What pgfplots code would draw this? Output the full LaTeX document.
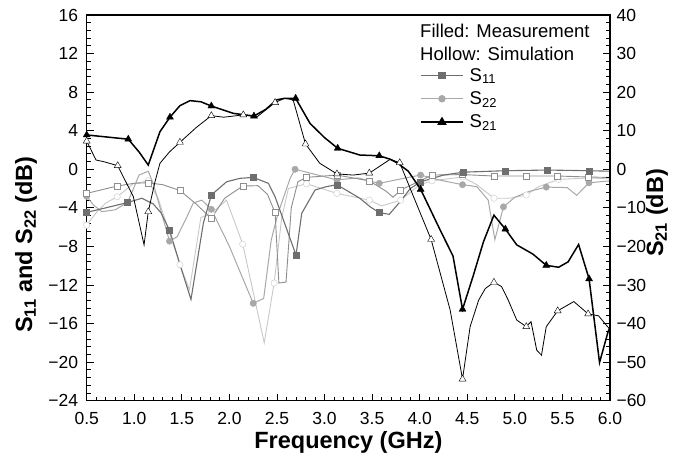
\documentclass[border=0pt]{standalone}
\usepackage{fontspec}
\setmainfont{Liberation Sans}
\usepackage{pgfplots}
\pgfplotsset{compat=1.18}
\definecolor{sA}{HTML}{6E6E6E}
\definecolor{sB}{HTML}{8E8E8E}
\definecolor{sC}{HTML}{A8A8A8}
\definecolor{sD}{HTML}{C8C8C8}
\pgfplotsset{
 common/.style={scale only axis, width=523.3pt, height=385.7pt, xmin=0.5, xmax=6,
   /pgf/number format/assume math mode=true,
   tick label style={font=\fontsize{17.5}{17.5}\selectfont},
   label style={font=\fontsize{23.5}{23.5}\selectfont\bfseries},
   tick style={black, line width=0.9pt},
   major tick length=7pt, minor tick length=4pt,
   axis line style={line width=1.4pt},
   tick align=inside,
 }
}
\begin{document}
\begin{tikzpicture}
\begin{axis}[common,
  ymin=-24, ymax=16,
  xtick={0.5,1,...,6}, minor x tick num=4,
  ytick={-24,-20,-16,-12,-8,-4,0,4,8,12,16}, minor y tick num=4,
  yticklabels={−24,−20,−16,−12,−8,−4,0,4,8,12,16},
  xtick pos=lower, ytick pos=left,
  xticklabel style={/pgf/number format/.cd, fixed, fixed zerofill, precision=1, /tikz/.cd, yshift=-8pt},
  yticklabel style={xshift=-5pt},
  xlabel={Frequency (GHz)},
  ylabel={S\textsubscript{11} and S\textsubscript{22} (dB)},
  xlabel style={at={(rel axis cs:0.5,-0.107)}, anchor=center},
  ylabel style={at={(rel axis cs:-0.116,0.405)}, anchor=center},
]
% S22 simulated
\addplot[sD, line width=0.9pt] coordinates {
(0.5,-5.8) (0.6,-4.5) (0.7,-3.5) (0.82,-2.85) (0.99,-1.5) (1.147,-1.2) (1.25,-3) (1.35,-6) (1.48,-9.9) (1.58,-12.5) (1.7,-5) (1.81,-4.6) (1.9,-3.8) (1.97,-3.2) (2.14,-7.76) (2.366,-18) (2.47,-11.8) (2.55,-5) (2.62,-2) (2.81,-1.5) (3.13,-2.5) (3.47,-3.2) (3.6,-3.8) (3.80,-3.2) (4.0,-1.6) (4.13,-1.2) (4.45,-0.8) (4.6,-1.6) (4.78,-3.0) (4.95,-3.0) (5.12,-2.67) (5.25,-1.8) (5.46,-1.05) (5.78,-0.9) (6.0,-1.0)};
\addplot[only marks, mark=*, mark size=3.2pt, draw=sD, fill=white] coordinates {
(0.5,-5.8) (0.82,-2.85) (1.147,-1.2) (1.48,-9.9) (1.81,-4.6) (2.14,-7.76) (2.47,-11.8) (2.81,-1.5) (3.13,-2.5) (3.47,-3.2) (3.80,-3.2) (4.13,-1.2) (4.45,-0.8) (4.78,-3.0) (5.12,-2.67) (5.46,-1.05) (5.78,-0.9)};
% S22 measured
\addplot[sC, line width=1pt] coordinates {
(0.5,-2.8) (0.57,-3.7) (0.66,-4.4) (0.8,-4.2) (0.93,-3.43) (1.0,-1.8) (1.05,-0.6) (1.147,-0.2) (1.2,-1.5) (1.3,-5.0) (1.37,-7.45) (1.45,-7.0) (1.55,-5) (1.62,-3.5) (1.71,-3.2) (1.81,-4.15) (2.0,-8) (2.25,-13.9) (2.36,-13.4) (2.44,-7.3) (2.51,-4.6) (2.64,-0.9) (2.69,0.0) (2.85,-0.4) (3.13,-1.1) (3.35,-0.9) (3.575,-1.46) (3.8,-1.0) (4.01,-0.6) (4.2,-1.1) (4.45,-1.6) (4.6,-1.8) (4.72,-3.2) (4.79,-7.3) (4.88,-3.9) (5.0,-2.9) (5.15,-2.3) (5.33,-1.85) (5.55,-1.9) (5.65,-2.7) (5.78,-1.4) (6.0,-1.2)};
\addplot[only marks, mark=*, mark size=3.2pt, color=sC] coordinates {
(0.5,-2.8) (0.93,-3.43) (1.37,-7.45) (1.81,-4.15) (2.25,-13.9) (2.69,0.0) (3.13,-1.1) (3.575,-1.46) (4.01,-0.6) (4.45,-1.6) (4.88,-3.9) (5.33,-1.85) (5.78,-1.4)};
% S11 simulated
\addplot[sB, line width=0.9pt] coordinates {
(0.5,-2.5) (0.82,-1.74) (1.0,-1.45) (1.147,-1.4) (1.3,-1.6) (1.48,-2.2) (1.65,-3.6) (1.81,-5.1) (1.95,-3.0) (2.14,-1.74) (2.3,-1.7) (2.40,-2.6) (2.48,-4.5) (2.52,-11.8) (2.595,-11.7) (2.65,-4) (2.72,-1.3) (2.81,-0.84) (3.13,-0.6) (3.47,-1.2) (3.65,-2.3) (3.72,-2.9) (3.80,-2.15) (4.13,-0.6) (4.45,-0.55) (4.78,-0.7) (5.12,-0.7) (5.45,-0.7) (5.77,-0.8) (6.0,-0.85)};
\addplot[only marks, mark=square*, mark size=3pt, draw=sB, fill=white] coordinates {
(0.5,-2.5) (0.82,-1.74) (1.147,-1.4) (1.48,-2.2) (1.81,-5.1) (2.14,-1.74) (2.48,-4.5) (2.81,-0.84) (3.13,-0.6) (3.47,-1.2) (3.80,-2.15) (4.13,-0.6) (4.45,-0.55) (4.78,-0.7) (5.12,-0.7) (5.45,-0.7) (5.77,-0.8)};
% S11 measured
\addplot[sA, line width=1.1pt] coordinates {
(0.5,-4.47) (0.7,-4.0) (0.93,-3.45) (1.08,-3.0) (1.2,-3.6) (1.28,-4.5) (1.37,-6.3) (1.5,-10.5) (1.596,-13.5) (1.726,-5.6) (1.81,-2.67) (1.97,-1.3) (2.11,-0.94) (2.25,-0.84) (2.41,-1.46) (2.48,-2.85) (2.70,-8.9) (2.76,-4.57) (2.90,-2.15) (3.02,-1.8) (3.13,-1.6) (3.37,-3.0) (3.48,-3.9) (3.575,-4.5) (3.68,-4.67) (3.8,-3.3) (3.9,-2.0) (4.01,-1.3) (4.25,-0.6) (4.46,-0.3) (4.9,-0.15) (5.34,-0.08) (5.78,-0.15) (6.0,-0.2)};
\addplot[only marks, mark=square*, mark size=3pt, color=sA] coordinates {
(0.5,-4.47) (0.93,-3.45) (1.37,-6.3) (1.81,-2.67) (2.25,-0.84) (2.70,-8.9) (3.13,-1.6) (3.575,-4.5) (4.01,-1.3) (4.46,-0.3) (4.9,-0.15) (5.34,-0.08) (5.78,-0.15)};
\node[anchor=base west, inner sep=0pt, font=\fontsize{18.5}{18.5}\selectfont] at (rel axis cs:0.637,0.9404) {Filled: Measurement};
\node[anchor=base west, inner sep=0pt, font=\fontsize{18.5}{18.5}\selectfont] at (rel axis cs:0.637,0.8833) {Hollow: Simulation};
\end{axis}
\begin{axis}[common,
  ymin=-60, ymax=40,
  axis x line=none, axis y line*=right,
  ytick={-60,-50,-40,-30,-20,-10,0,10,20,30,40}, minor y tick num=4,
  yticklabels={−60,−50,−40,−30,−20,−10,0,10,20,30,40},
  yticklabel style={xshift=3pt},
  ylabel={S\textsubscript{21} (dB)},
  ylabel style={at={(rel axis cs:1.09,0.487)}, anchor=center},
  legend style={at={(rel axis cs:0.637,0.868)}, anchor=north west, draw=none, fill=none,
    inner sep=0pt, row sep=5pt, font=\fontsize{18.5}{18.5}\selectfont,
    nodes={inner sep=2pt},
    /tikz/every odd column/.append style={column sep=4pt}},
  legend cell align=left,
  legend image code/.code={\draw[mark repeat=2,mark phase=2,#1] plot coordinates {(0pt,0pt) (21pt,0pt) (42pt,0pt)};},
]
% S21 simulated
\addplot[black, line width=0.8pt, forget plot] coordinates {
(0.5,7.3) (0.598,2.4) (0.675,2.0) (0.826,0.93) (0.99,-7.1) (1.103,-19.6) (1.147,-11.0) (1.218,-3.2) (1.27,1.55) (1.37,4.5) (1.48,7.0) (1.65,10.8) (1.81,13.9) (1.94,13.5) (2.146,14.1) (2.29,13.6) (2.48,17.3) (2.58,18.4) (2.67,18.0) (2.80,6.55) (2.95,1.55) (3.13,-1.2) (3.30,-1.5) (3.47,-1.0) (3.69,2.6) (3.79,1.7) (3.95,-8) (4.12,-18.2) (4.32,-36.5) (4.45,-54.4) (4.53,-40.8) (4.62,-33.9) (4.69,-30.9) (4.78,-29.3) (4.86,-30.4) (4.93,-33.9) (5.02,-39.1) (5.12,-40.8) (5.17,-39.5) (5.23,-46.9) (5.28,-48.2) (5.33,-40.8) (5.45,-36.7) (5.62,-34.3) (5.77,-37.5) (5.88,-38.0) (5.96,-40.4) (6.0,-41.5)};
\addplot[only marks, mark=triangle*, mark size=4pt, draw=black, fill=white, forget plot] coordinates {
(0.5,7.3) (0.826,0.93) (1.147,-11.0) (1.48,7.0) (1.81,13.9) (2.146,14.1) (2.48,17.3) (2.80,6.55) (3.13,-1.2) (3.47,-1.0) (3.79,1.7) (4.12,-18.2) (4.45,-54.4) (4.78,-29.3) (5.12,-40.8) (5.45,-36.7) (5.77,-37.5)};
% S21 measured
\addplot[black, line width=1.5pt, forget plot] coordinates {
(0.5,8.9) (0.937,7.8) (1.05,4.5) (1.147,1.1) (1.27,9.75) (1.375,13.5) (1.48,16.5) (1.586,17.8) (1.7,17.5) (1.81,16.4) (2.04,14.5) (2.258,13.8) (2.38,15.5) (2.497,18) (2.58,18.4) (2.696,18.4) (2.847,11.9) (3.0,8.2) (3.138,5.44) (3.37,3.7) (3.575,3.5) (3.69,2.6) (3.77,1.55) (3.88,-0.5) (4.01,-5.2) (4.21,-15.5) (4.35,-22.5) (4.45,-36.3) (4.56,-27.8) (4.67,-18.8) (4.78,-11.9) (4.90,-15.5) (5.02,-19.6) (5.19,-22.0) (5.33,-24.9) (5.46,-25.4) (5.56,-24.0) (5.67,-19.5) (5.78,-28.4) (5.89,-50.1) (5.98,-42.1) (6.0,-41)};
\addplot[only marks, mark=triangle*, mark size=4pt, color=black, forget plot] coordinates {
(0.5,8.9) (0.937,7.8) (1.375,13.5) (1.81,16.4) (2.258,13.8) (2.696,18.4) (3.138,5.44) (3.575,3.5) (4.01,-5.2) (4.45,-36.3) (4.90,-15.5) (5.33,-24.9) (5.78,-28.4)};
\addlegendimage{sA, line width=1.1pt, mark=square*, mark size=3pt}
\addlegendentry{S\textsubscript{11}}
\addlegendimage{sC, line width=1pt, mark=*, mark size=3.2pt}
\addlegendentry{S\textsubscript{22}}
\addlegendimage{black, line width=1.5pt, mark=triangle*, mark size=4pt}
\addlegendentry{S\textsubscript{21}}
\end{axis}
\pgfresetboundingbox
\path[use as bounding box] (-86.7pt,-59.3pt) rectangle (599.3pt,400.7pt);
\end{tikzpicture}
\end{document}
